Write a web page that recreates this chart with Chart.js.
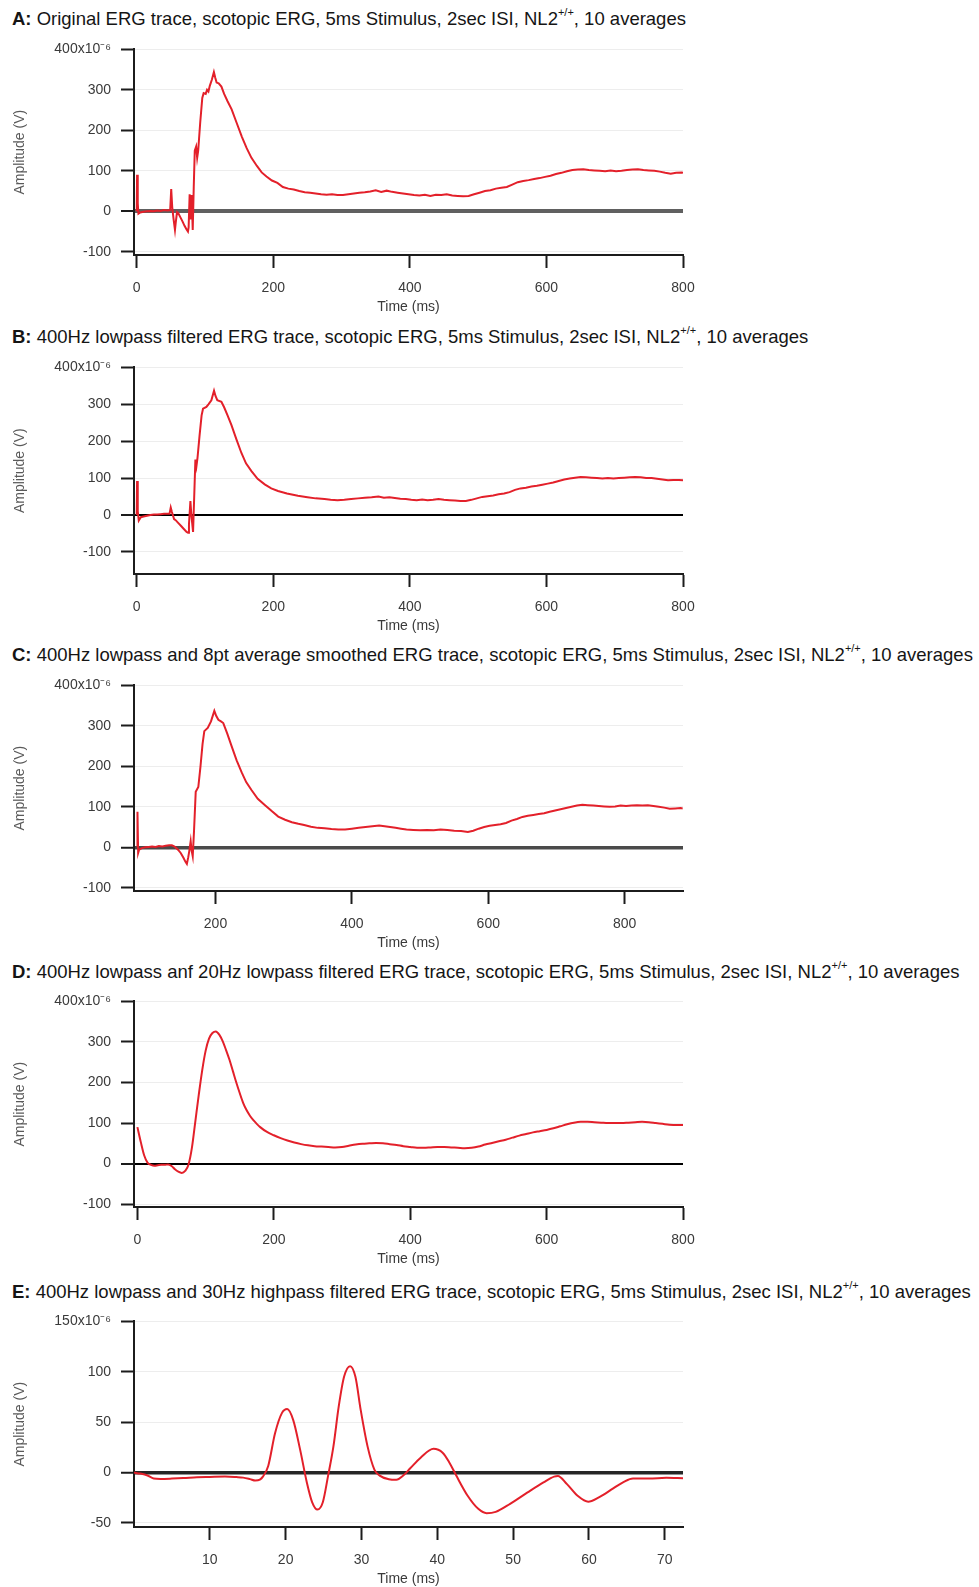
<!DOCTYPE html>
<html><head><meta charset="utf-8">
<script src="https://cdn.jsdelivr.net/npm/chart.js@4.4.1/dist/chart.umd.min.js"></script>
<style>
html,body{margin:0;padding:0;background:#fff;}
body{width:979px;height:1587px;position:relative;overflow:hidden;font-family:"Liberation Sans",Arial,sans-serif;}
.t{position:absolute;left:12px;font-size:18.5px;line-height:22px;color:#151515;white-space:nowrap;}
.t sup{font-size:11px;vertical-align:0;position:relative;top:-9px;}
canvas{position:absolute;left:0;}
</style></head><body>
<div class="t" style="top:8px"><b>A:</b> Original ERG trace, scotopic ERG, 5ms Stimulus, 2sec ISI, NL2<sup>+/+</sup>, 10 averages</div>
<div class="t" style="top:326px"><b>B:</b> 400Hz lowpass filtered ERG trace, scotopic ERG, 5ms Stimulus, 2sec ISI, NL2<sup>+/+</sup>, 10 averages</div>
<div class="t" style="top:644px"><b>C:</b> 400Hz lowpass and 8pt average smoothed ERG trace, scotopic ERG, 5ms Stimulus, 2sec ISI, NL2<sup>+/+</sup>, 10 averages</div>
<div class="t" style="top:961px"><b>D:</b> 400Hz lowpass anf 20Hz lowpass filtered ERG trace, scotopic ERG, 5ms Stimulus, 2sec ISI, NL2<sup>+/+</sup>, 10 averages</div>
<div class="t" style="top:1281px"><b>E:</b> 400Hz lowpass and 30Hz highpass filtered ERG trace, scotopic ERG, 5ms Stimulus, 2sec ISI, NL2<sup>+/+</sup>, 10 averages</div>
<script>
// ---------- DATA ----------
const timeA = [0,0.5,1.5,2.5,5,10,15,20,25,30,35,40,45,49,50.5,52,54,56,57,59,61,64,67,70,73,75,76,77.5,79,80.5,82,83.5,85,87,88.5,90,93,96,98,101,103,105,107,110,113,115,117,120,124,128,133,139,146,154,161,168,176,183,190,198,206,214,222,230,238,246,254,262,270,278,286,294,302,310,318,326,334,342,350,358,366,374,382,390,398,406,414,422,430,438,446,454,462,470,478,486,494,502,510,518,526,534,542,550,558,566,574,582,590,598,606,614,622,630,638,646,654,662,670,678,686,694,702,710,718,726,734,742,750,758,766,774,782,790,798,800];
const ampA  = [0,90,20,-6,-3,-1,0,1,0,2,1,3,2,3,55,10,-20,-46,-30,-2,-5,-15,-25,-36,-45,-50,-40,42,-20,40,-46,60,150,160,132,150,220,280,292,290,300,296,310,325,344,330,318,316,308,290,272,252,220,184,156,132,112,96,86,76,70,60,56,54,50,47,46,44,42,41,42,40,40,42,44,46,47,49,52,48,51,48,46,44,42,40,39,41,38,41,40,42,39,38,37,38,42,46,50,52,56,58,60,66,72,75,77,80,82,85,88,92,95,99,102,103,104,102,101,100,99,101,99,100,102,103,104,102,101,100,98,95,93,95,96,95];

const timeB = [0,0.5,1.5,3,6,10,15,20,25,30,35,40,45,48,49.8,51.5,54.7,57,61,65,69,73,75.2,76.5,78.6,80,82.5,84,85.9,87.4,89,92,95,97.1,102,105,109.3,113.2,115.5,118,124,128,133,138.6,146,153.3,160,168,177,187.4,197,206.9,220,236,250,262,275,284,294,304,314,324,334,344,354,362,370,378,386,394,402,410,418,426,434,442,450,458,466,474,482,490,498,506,514,522,530,538,546,554,562,570,578,586,594,602,610,618,626,634,642,650,658,666,674,682,690,698,706,714,722,730,738,746,754,762,770,778,786,794,800];
const ampB  = [0,92,10,-15,-6,-4,-2,0,1,1,2,3,3,3,20,8,-11,-14,-22,-30,-38,-46,-48,-25,38,0,-46,40,150,132,155,215,270,288,293,300,311,337,322,311,307,292,270,244,205,168,140,119,98,83,72,65,58,52,48,45,43,41,40,41,43,45,47,48,50,47,48,46,44,43,41,40,42,40,41,43,41,40,39,38,38,41,45,49,51,53,56,58,62,68,72,74,77,79,82,85,88,92,96,99,101,103,102,101,100,99,100,99,100,101,102,103,102,100,100,98,96,94,95,95,94];

const timeC = [85.3,85.6,86.6,88,92,97,102,107,112,117,122,127,132,136,140,145,149,153,156,158,160,161.5,163.6,165,166.6,168.5,171,174.8,178,181,183.6,188.6,193.4,198.3,201,204.2,208,211.4,217,223.6,231,238.4,245,253,262,272.6,282,292,302,312,321.4,330,340,350,360,370,380,390,400,410,420,430,440,448,456,464,472,480,490,500,510,520,530,540,550,560,570,578,586,594,602,610,618,626,634,642,650,658,666,674,682,690,698,706,714,722,730,738,746,754,762,770,778,786,794,802,810,818,826,834,842,850,858,866,874,882,885];
const ampC  = [0,88,-14,-6,-2,0,1,2,1,3,2,4,5,5,2,-6,-14,-26,-36,-41,-25,-10,15,-8,-22,40,137,149,200,255,287,295,311,337,325,315,311,307,282,250,215,185,161,141,120,104,90,76,68,62,58,55,51,48,47,45,44,44,46,48,50,52,54,52,50,48,46,44,43,42,43,42,44,43,41,40,38,41,46,50,53,55,57,60,66,70,75,78,80,82,84,88,91,94,97,100,103,105,104,103,102,101,100,101,103,102,103,104,103,104,102,100,98,95,96,97,96];

const timeD = [0,5,10,15,20,25,30,35,40,45,50,55,60,65,70,75,80,85,90,95,100,105,110,115,120,125,130,135,140,145,150,155,160,165,170,175,180,190,200,210,220,230,240,250,260,270,280,290,300,310,320,330,340,350,360,370,380,390,400,410,420,430,440,450,460,470,480,490,500,510,520,530,540,550,560,570,580,590,600,610,620,630,640,650,660,670,680,690,700,710,720,730,740,750,760,770,780,790,800];
const ampD  = [90,53,20,2,-3,-5,-4,-3,-3,-2,-6,-14,-20,-23,-18,-2,40,105,170,230,278,308,322,326,318,302,280,256,228,200,174,150,132,118,107,98,90,78,70,63,57,52,48,45,43,42,41,40,41,44,47,49,50,51,50,48,46,43,41,39,39,40,41,41,40,39,38,39,42,47,51,55,59,64,69,73,77,80,83,87,92,97,101,103,103,102,101,100,100,100,101,102,103,102,100,98,96,95,95];

const timeE = [0,0.8,1.7,2.6,3.5,5,6.5,8.3,10,12,13.5,14.4,15.3,16,16.6,17,17.7,18.6,19.5,20.2,21,21.9,22.8,23.5,24.2,24.9,25.6,26.3,27,27.7,28.5,29.2,29.9,30.8,31.7,32.4,33.6,34.6,35.5,36.4,37.8,39.5,40.7,41.6,42.5,44,45.4,46.5,47.7,49.6,51.9,54,55.4,55.9,57.1,58.5,59.9,61.3,63.2,64.6,65.8,67.9,70.2,72.4];
const ampE  = [0,-1,-2.6,-5.9,-6.3,-6,-5.5,-4.6,-4.3,-4,-4.5,-5,-6.5,-7.9,-7,-4,6.6,39,59,63,52,23,-10,-29.5,-36.7,-29.5,-3,26,65.6,95,105.6,95,62,26,3,-3,-6.6,-7.2,-3,4,14.8,23.6,19.7,9.8,-3,-23,-36,-40.3,-39,-31,-19.7,-9.8,-4,-3.3,-11.5,-23,-28.9,-24.6,-15.7,-9.2,-5.9,-5.9,-5.2,-5.6];

const xTicksERG = [0,200,400,600,800];
const xTicksC   = [200,400,600,800];
const xTicksE   = [10,20,30,40,50,60,70];
const yTicksERG = [-100,0,100,200,300,400];
const yTicksE   = [-50,0,50,100,150];

// ---------- LAYOUT / STYLE ----------
const FONT = '"Liberation Sans", Arial, sans-serif';
const RED = '#e3202a';
const AX = '#1c1c1c';
const LEFT = 134, RIGHT = 683, PADTOP = 16, AXISH = 61;

const panels = [
  {time:timeA, amp:ampA, xMin:-4,   xMax:800,   yMin:-108, yMax:400, xTicks:xTicksERG, yTicks:yTicksERG, top:47,   bottom:255,  zeroColor:'#606060', zeroWidth:4,   smooth:false},
  {time:timeB, amp:ampB, xMin:-4,   xMax:800,   yMin:-160, yMax:400, xTicks:xTicksERG, yTicks:yTicksERG, top:365,  bottom:574,  zeroColor:'#000000', zeroWidth:2,   smooth:false},
  {time:timeC, amp:ampC, xMin:80.5, xMax:885.5, yMin:-108, yMax:400, xTicks:xTicksC,   yTicks:yTicksERG, top:683,  bottom:891,  zeroColor:'#4a4a4a', zeroWidth:3.5, smooth:false},
  {time:timeD, amp:ampD, xMin:-5,   xMax:800,   yMin:-107, yMax:400, xTicks:xTicksERG, yTicks:yTicksERG, top:999,  bottom:1207, zeroColor:'#000000', zeroWidth:2,   smooth:true},
  {time:timeE, amp:ampE, xMin:0,    xMax:72.4,  yMin:-54,  yMax:150, xTicks:xTicksE,   yTicks:yTicksE,   top:1319, bottom:1527, zeroColor:'#262626', zeroWidth:3.5, smooth:true}
];

function makePanel(p){
  const cv = document.createElement('canvas');
  const h = (p.bottom - p.top) + PADTOP + AXISH;
  cv.width = 979; cv.height = h;
  cv.style.width = '979px'; cv.style.height = h + 'px';
  cv.style.top = (p.top - PADTOP) + 'px';
  document.body.appendChild(cv);
  const tickFont = {family: FONT, size: 14};
  new Chart(cv, {
    type: 'line',
    data: {datasets: [{
      data: p.time.map((t, i) => ({x: t, y: p.amp[i]})),
      borderColor: RED, borderWidth: 2, pointRadius: 0, fill: false,
      tension: p.smooth ? 0.4 : 0,
      cubicInterpolationMode: p.smooth ? 'monotone' : 'default'
    }]},
    options: {
      responsive: false, animation: false, devicePixelRatio: 1,
      layout: {padding: {top: PADTOP, right: 979 - RIGHT, bottom: 0, left: 0}},
      plugins: {legend: {display: false}, tooltip: {enabled: false}, title: {display: false}},
      scales: {
        x: {
          type: 'linear', min: p.xMin, max: p.xMax,
          afterFit: s => { s.height = AXISH; },
          afterBuildTicks: s => { s.ticks = p.xTicks.map(v => ({value: v})); },
          grid: {drawOnChartArea: false, drawTicks: true, tickLength: 13, tickWidth: 2, tickColor: AX},
          border: {display: true, color: AX, width: 2},
          ticks: {padding: 12, color: '#3a3a3a', font: tickFont, maxRotation: 0, autoSkip: false, callback: v => String(v)},
          title: {display: true, text: 'Time (ms)', color: '#3a3a3a', font: tickFont, padding: {top: 0, bottom: 0}}
        },
        y: {
          type: 'linear', min: p.yMin, max: p.yMax,
          afterFit: s => { s.width = LEFT; },
          afterBuildTicks: s => { s.ticks = p.yTicks.map(v => ({value: v})); },
          grid: {
            color: c => (c.tick && c.tick.value === 0) ? p.zeroColor : '#ededed',
            lineWidth: c => (c.tick && c.tick.value === 0) ? p.zeroWidth : 1,
            tickLength: 13, tickWidth: 2, tickColor: AX
          },
          border: {display: true, color: AX, width: 2},
          ticks: {padding: 10, color: '#3a3a3a', font: tickFont, autoSkip: false,
                  callback: v => v === p.yMax ? v + 'x10\u207B\u2076' : String(v)},
          title: {display: true, text: 'Amplitude (V)', color: '#5a5a5a', font: tickFont, padding: {top: 11.5, bottom: 0}}
        }
      }
    }
  });
}
panels.forEach(makePanel);
</script>
</body></html>
